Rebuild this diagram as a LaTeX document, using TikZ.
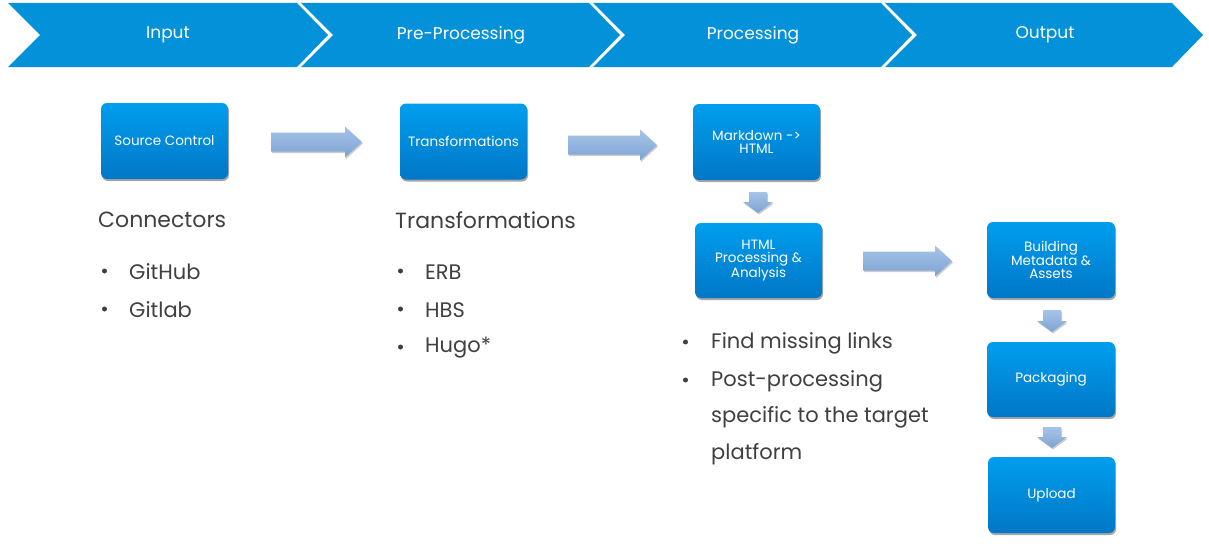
\documentclass[tikz,border=0pt]{standalone}
\usepackage{fontspec}
\setmainfont{Poppins}
\usetikzlibrary{shadows}
\definecolor{chev}{HTML}{0391DA}
\definecolor{boxtop}{HTML}{009EEE}
\definecolor{boxbot}{HTML}{0077C6}
\definecolor{arrtop}{HTML}{A7C4E9}
\definecolor{arrbot}{HTML}{7DA3D3}
\definecolor{txt}{HTML}{404040}
\newcommand\chevron[2]{% left x, right x (top corners)
  \fill[chev] (#1,3) -- (#2,3) -- ({#2+31},35) -- (#2,67) -- (#1,67) -- ({#1+32},35) -- cycle;}
\newcommand\rarrow[3]{% x1, x2, yc
  \shade[arrow shade] (#1,{#3-9.5}) -- ({#2-17},{#3-9.5}) -- ({#2-17},{#3-15.5}) -- (#2,#3)
   -- ({#2-17},{#3+15.5}) -- ({#2-17},{#3+9.5}) -- (#1,{#3+9.5}) -- cycle;}
\newcommand\darrow[3]{% xc, y1, y2
  \shade[arrow shade] ({#1-9},#2) -- ({#1+9},#2) -- ({#1+9},{#3-11}) -- ({#1+15},{#3-11}) -- (#1,#3)
   -- ({#1-15},{#3-11}) -- ({#1-9},{#3-11}) -- cycle;}
\begin{document}
\begin{tikzpicture}[x=1pt,y=-1pt,
  arrow shade/.style={top color=arrtop,bottom color=arrbot,
     drop shadow={shadow xshift=1pt,shadow yshift=-1.5pt,opacity=0.2,fill=black}},
  phase/.style={text=white,font=\fontsize{17}{20}\selectfont},
  box/.style={rounded corners=6pt,top color=boxtop,bottom color=boxbot,text=white,
     font=\fontsize{13.5}{13}\selectfont,align=center,minimum width=127pt,minimum height=76pt,
     inner sep=2pt,
     drop shadow={shadow xshift=1pt,shadow yshift=-2pt,opacity=0.35,fill=black}},
  head/.style={anchor=west,text=txt,font=\fontsize{22}{24}\selectfont,inner sep=0pt},
  item/.style={anchor=west,text=txt,font=\fontsize{21}{24}\selectfont,inner sep=0pt},
  bul/.style={circle,fill=txt,inner sep=0pt,minimum size=5pt}]
\useasboundingbox (0,0) rectangle (1209,543);
\fill[white] (0,0) rectangle (1209,543);
% phase chevrons
\chevron{8}{297}
\chevron{301}{589}
\chevron{593}{881}
\chevron{885}{1172}
\node[phase] (pin) at (168,35) {Input};
\node[phase] (ppre) at (461,35) {Pre-Processing};
\node[phase] (pproc) at (753,35) {Processing};
\node[phase] (pout) at (1045,35) {Output};
% boxes
\node[box] (src) at (164.5,141) {Source Control};
\node[box] (trans) at (463.5,141.5) {Transformations};
\node[box] (md) at (756.5,142) {Markdown ->\\HTML};
\node[box,minimum height=75pt] (html) at (758.5,260.5) {HTML\\Processing \&\\Analysis};
\node[box,minimum width=128pt] (build) at (1051,260) {Building\\Metadata \&\\Assets};
\node[box,minimum width=128pt,minimum height=75pt] (pack) at (1051,379.5) {Packaging};
\node[box] (up) at (1051.5,495) {Upload};
% block arrows
\rarrow{271}{362}{142}
\rarrow{568}{657}{145}
\rarrow{863}{952}{261}
\darrow{758}{192}{213}
\darrow{1052}{310}{332}
\darrow{1052}{427}{448}
% text lists
\node[head] (hcon) at (98,220) {Connectors};
\node[bul] (b1) at (104.5,271) {};
\node[item] (t1) at (129,272) {GitHub};
\node[bul] (b2) at (104.5,309) {};
\node[item] (t2) at (129,310) {Gitlab};
\node[head] (htr) at (395,220) {Transformations};
\node[bul] (b3) at (400.5,271) {};
\node[item] (t3) at (425,272) {ERB};
\node[bul] (b4) at (400.5,309) {};
\node[item] (t4) at (425,310) {HBS};
\node[bul] (b5) at (400.5,347) {};
\node[item] (t5) at (425,348) {Hugo*};
\node[bul] (b6) at (685.5,342) {};
\node[item] (t6) at (711,343) {Find missing links};
\node[bul] (b7) at (685.5,380) {};
\node[item] (t7) at (711,381) {Post-processing};
\node[item] (t8) at (711,417) {specific to the target};
\node[item] (t9) at (711,454) {platform};
\end{tikzpicture}
\end{document}
